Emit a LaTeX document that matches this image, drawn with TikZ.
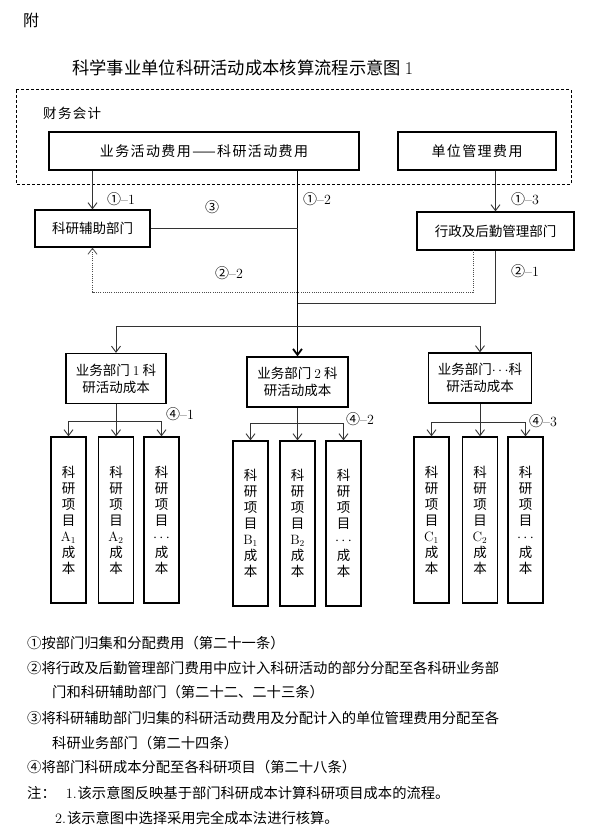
\documentclass[tikz,border=0pt]{standalone}
\usepackage{fontspec}
\newfontfamily\cjk{Noto Sans CJK SC}
\newfontfamily\cjkls[LetterSpace=10]{Noto Sans CJK SC}
\usetikzlibrary{arrows.meta}
\newcommand\middots{$\cdots$}
\begin{document}
\begin{tikzpicture}[x=1pt,y=-1pt,
  box/.style={draw=black, line width=1.2pt, inner sep=0pt, align=center,
    font=\cjk\fontsize{13.5}{17}\selectfont},
  topbox/.style={box, line width=1.4pt, minimum height=38pt,
    font=\cjkls\fontsize{14}{17}\selectfont},
  colbox/.style={box, minimum width=35pt, minimum height=166pt,
    font=\cjk\fontsize{13.5}{16}\selectfont},
  deptbox/.style={box, minimum height=50pt},
  conn/.style={draw=black!80, line width=0.9pt},
  mainline/.style={draw=black, line width=1.8pt},
  arr/.style={-{Straight Barb[length=6pt,width=9pt]}},
  lbl/.style={font=\cjk\fontsize{14}{16}\selectfont, inner sep=0pt},
  txt/.style={font=\cjk\fontsize{14.3}{17}\selectfont, inner sep=0pt, anchor=west}
]
\useasboundingbox[fill=white] (0,0) rectangle (596,840);

% header
\node[inner sep=0pt, anchor=west, font=\cjk\fontsize{16}{18}\selectfont] (fu) at (23,20) {附};
\node[inner sep=0pt, anchor=west, font=\cjk\fontsize{17.3}{20}\selectfont] (title) at (72,68)
  {科学事业单位科研活动成本核算流程示意图 {\rmfamily\fontsize{18}{20}\selectfont 1}};

% finance accounting dashed frame
\draw[line width=1pt, dash pattern=on 3pt off 2pt] (16,90) rectangle (571,184);
\node[inner sep=0pt, anchor=west, font=\cjkls\fontsize{13.5}{17}\selectfont] (cw) at (43,113) {财务会计};

% top boxes
\node[topbox, minimum width=310pt] (main) at (204,151) {业务活动费用——科研活动费用};
\node[topbox, minimum width=158pt] (unit) at (477,151) {单位管理费用};

% second level
\node[box, minimum width=115pt, minimum height=37pt] (aux) at (92.5,228.5) {科研辅助部门};
\node[box, minimum width=157pt, minimum height=38pt] (adm) at (495.5,231) {行政及后勤管理部门};

% departments
\node[deptbox, minimum width=100pt] (d1) at (116,378.5) {业务部门 {\rmfamily 1} 科\\研活动成本};
\node[deptbox, minimum width=101pt] (d2) at (297.5,382) {业务部门 {\rmfamily 2} 科\\研活动成本};
\node[deptbox, minimum width=103pt] (d3) at (480,378) {业务部门\middots 科\\研活动成本};

% project columns
\node[colbox] (a1) at (68.5,520) {科\\研\\项\\目\\{\rmfamily A}$_1$\\成\\本};
\node[colbox] (a2) at (116,520) {科\\研\\项\\目\\{\rmfamily A}$_2$\\成\\本};
\node[colbox] (a3) at (161.5,520) {科\\研\\项\\目\\\middots\\成\\本};
\node[colbox, minimum height=165pt] (b1) at (250.5,523.5) {科\\研\\项\\目\\{\rmfamily B}$_1$\\成\\本};
\node[colbox, minimum height=165pt] (b2) at (297.5,523.5) {科\\研\\项\\目\\{\rmfamily B}$_2$\\成\\本};
\node[colbox, minimum height=165pt] (b3) at (343.5,523.5) {科\\研\\项\\目\\\middots\\成\\本};
\node[colbox] (c1) at (431.5,520) {科\\研\\项\\目\\{\rmfamily C}$_1$\\成\\本};
\node[colbox] (c2) at (480,520) {科\\研\\项\\目\\{\rmfamily C}$_2$\\成\\本};
\node[colbox] (c3) at (525.5,520) {科\\研\\项\\目\\\middots\\成\\本};

% connectors top
\draw[conn, arr] (main.south -| aux.north) -- (aux.north);
\draw[conn, arr] (unit.south -| adm.north) -- (adm.north);
\draw[mainline, arr] (main.south -| d2.north) -- (d2.north);
\draw[conn] (aux.east) -- (aux.east -| d2.north);

\coordinate (j2) at (297.5,303);
\draw[conn] (adm.south) |- (j2);
\coordinate (p0) at (473,250);
\coordinate (p1) at (473,292);
\draw[draw=black!70, line width=0.8pt, dash pattern=on 1pt off 1.2pt, arr] (p0) -- (p1) -| (aux.south);

\coordinate (h) at (297.5,326);
\draw[conn, arr] (h) -| (d1.north);
\draw[conn, arr] (h) -| (d3.north);

% department distributions
\coordinate (r1) at (116,421);
\draw[conn, arr] (d1.south) -- (a2.north);
\draw[conn, arr] (r1) -| (a1.north);
\draw[conn, arr] (r1) -| (a3.north);
\coordinate (r2) at (297.5,423);
\draw[conn, arr] (d2.south) -- (b2.north);
\draw[conn, arr] (r2) -| (b1.north);
\draw[conn, arr] (r2) -| (b3.north);
\coordinate (r3) at (480,422);
\draw[conn, arr] (d3.south) -- (c2.north);
\draw[conn, arr] (r3) -| (c1.north);
\draw[conn, arr] (r3) -| (c3.north);

% labels
\node[lbl] (l11) at (121,199) {①{\rmfamily –1}};
\node[lbl] (l12) at (317,199) {①{\rmfamily –2}};
\node[lbl] (l13) at (525,199) {①{\rmfamily –3}};
\node[lbl] (l3) at (212,207) {③};
\node[lbl] (l22) at (229,273) {②{\rmfamily –2}};
\node[lbl] (l21) at (525,271) {②{\rmfamily –1}};
\node[lbl] (l41) at (180,414) {④{\rmfamily –1}};
\node[lbl] (l42) at (360,419) {④{\rmfamily –2}};
\node[lbl] (l43) at (543,421) {④{\rmfamily –3}};

% legend
\node[txt] (t1) at (27,643) {①按部门归集和分配费用（第二十一条）};
\node[txt] (t2) at (27,668) {②将行政及后勤管理部门费用中应计入科研活动的部分分配至各科研业务部};
\node[txt] (t3) at (52,692) {门和科研辅助部门（第二十二、二十三条）};
\node[txt] (t4) at (27,718) {③将科研辅助部门归集的科研活动费用及分配计入的单位管理费用分配至各};
\node[txt] (t5) at (52,743) {科研业务部门（第二十四条）};
\node[txt] (t6) at (27,767) {④将部门科研成本分配至各科研项目（第二十八条）};
\node[txt] (t7) at (27,793) {注：\hspace{10pt}{\rmfamily 1.}\hspace{1pt}该示意图反映基于部门科研成本计算科研项目成本的流程。};
\node[txt] (t8) at (55,818) {{\rmfamily 2.}\hspace{1pt}该示意图中选择采用完全成本法进行核算。};
\end{tikzpicture}
\end{document}
